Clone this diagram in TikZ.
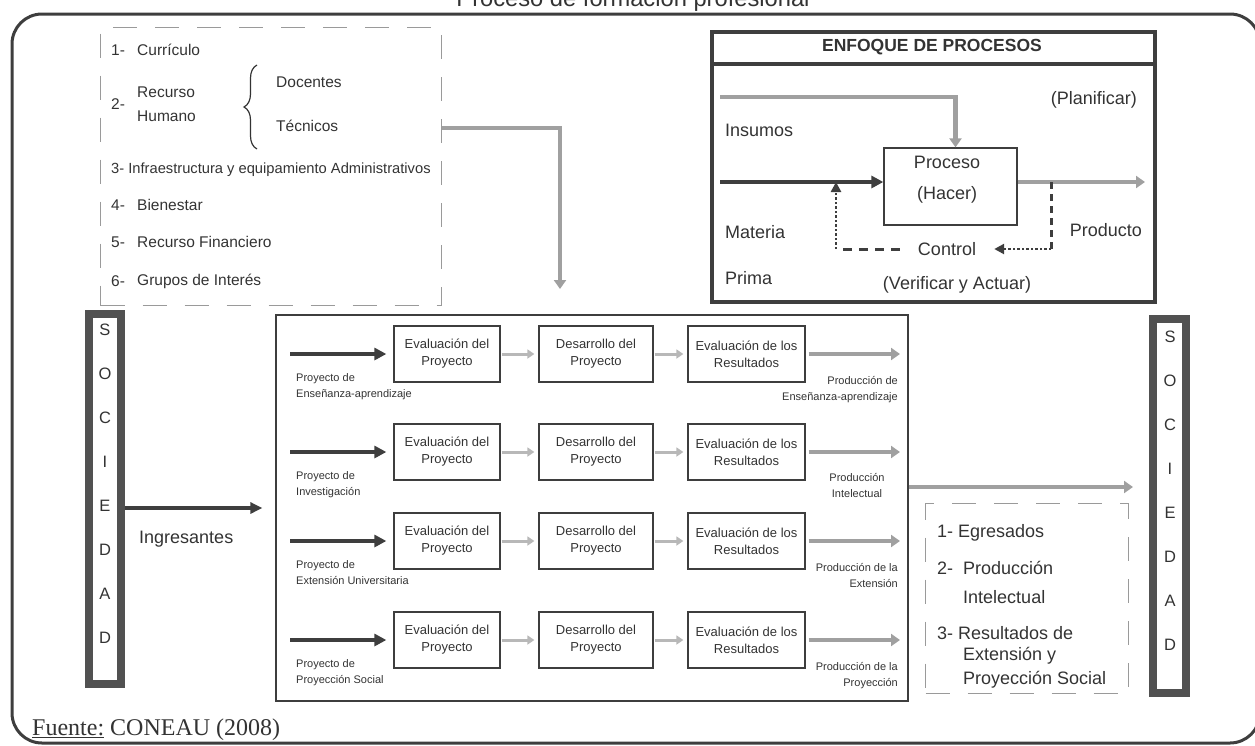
\documentclass[tikz,border=0pt]{standalone}
\usepackage{fontspec}
\setmainfont{Liberation Sans}
\newfontfamily\srffont{Liberation Serif}
\usetikzlibrary{arrows.meta,decorations.pathreplacing,calc}
\definecolor{ink}{HTML}{333333}
\definecolor{frame}{HTML}{3E3E3E}
\definecolor{hatch}{HTML}{A0A0A0}
\definecolor{dashc}{HTML}{9A9A9A}
\newcommand\fsz[2]{\fontsize{#1}{#2}\selectfont}

\begin{document}
\begin{tikzpicture}[x=1pt,y=-1pt,
  txt/.style={inner sep=0pt, text=ink},
  listtxt/.style={txt, anchor=west, font=\fsz{15.5}{18}},
  mtxt/.style={txt, font=\fsz{18}{22}},
  smalltxt/.style={txt, font=\fsz{11}{16}},
  dashbox/.style={draw=dashc, line width=1.2pt, dash pattern=on 24pt off 18pt},
  thickframe/.style={draw=frame, line width=4pt},
  socframe/.style={draw=frame!90, line width=8pt},
  stepbox/.style={draw=frame, line width=1.3pt, align=center, text=ink,
                  font=\fsz{13}{17}, inner sep=0pt, minimum height=56pt},
  darrow/.style={draw=frame, line width=4pt, -{Triangle[length=12pt,width=12pt]}},
  harrow/.style={draw=hatch, line width=4.5pt, -{Triangle[length=9pt,width=12pt]}},
  sarrow/.style={draw=hatch!75, line width=3pt, -{Triangle[length=7pt,width=9pt]}},
]
\useasboundingbox (0,0) rectangle (1255,745);

% outer frame and title
\draw[draw=frame, line width=3pt, rounded corners=30pt] (12,14) rectangle (1260,743);
\node[txt, anchor=base, font=\fsz{23.7}{24}] (title) at (633,6) {Proceso de formación profesional};

% resources list
\node[dashbox, minimum width=341pt, minimum height=278pt, anchor=north west, inner sep=0pt]
  (recursos) at (100,27) {};
\node[listtxt] (n1) at (111,50) {1-};
\node[listtxt] (t1) at (137,50) {Currículo};
\node[listtxt] (n2) at (111,104) {2-};
\node[listtxt, align=left, font=\fsz{15.5}{24}] (t2) at (137,104) {Recurso\\Humano};
\draw[draw=ink, line width=1.2pt, decorate, decoration={brace, amplitude=13pt}]
  (257,149) -- (257,65);
\node[listtxt] (doc) at (276,82) {Docentes};
\node[listtxt] (tec) at (276,126) {Técnicos};
\node[listtxt, font=\fsz{14.7}{18}] (t3) at (111,170) {3- Infraestructura y equipamiento Administrativos};
\node[listtxt] (n4) at (111,205) {4-};
\node[listtxt] (t4) at (137,205) {Bienestar};
\node[listtxt] (n5) at (111,242) {5-};
\node[listtxt] (t5) at (137,242) {Recurso Financiero};
\node[listtxt] (n6) at (111,281) {6-};
\node[listtxt] (t6) at (137,281) {Grupos de Interés};

% process approach panel
\node[thickframe, minimum width=443pt, minimum height=270pt, inner sep=0pt, anchor=north west]
  (enfoque) at (710,30) {};
\draw[draw=frame, line width=3.5pt] ($(enfoque.north west)+(2,34)$) -- ($(enfoque.north east)+(-2,34)$);
\node[txt, font=\bfseries\fsz{17.5}{20}] (enfhead) at (932,47) {ENFOQUE DE PROCESOS};
\node[draw=frame, line width=1.3pt, minimum width=133pt, minimum height=77pt, inner sep=0pt]
  (proceso) at (950.5,186.5) {};
\node[mtxt, align=center, font=\fsz{18}{31}] (procT) at (947,180) {Proceso\\(Hacer)};
\node[mtxt, anchor=east] (plan) at (1137,100) {(Planificar)};
\node[mtxt, anchor=west] (insumos) at (725,130) {Insumos};
\node[mtxt, anchor=west] (materia) at (725,232) {Materia};
\node[mtxt, anchor=west] (prima) at (725,278) {Prima};
\node[mtxt, anchor=east] (producto) at (1142,230) {Producto};
\node[mtxt, inner xsep=18pt] (control) at (947,249) {Control};
\node[mtxt] (verif) at (957,285) {(Verificar y Actuar)};

\coordinate (insIn) at (720,97);
\coordinate (matIn) at (720,182);
\coordinate (prodOut) at (1145,182);
\coordinate (tap) at (1051,182);
\coordinate (fb) at (836,249);
\draw[harrow] (insIn) -| ([xshift=5pt]proceso.north);
\draw[darrow] (matIn) -- (proceso.west |- matIn);
\draw[harrow] (proceso.east |- matIn) -- (prodOut);
\draw[draw=frame, line width=3pt, dash pattern=on 7pt off 5pt] (tap) -- (tap |- control);
\draw[draw=frame, line width=2.5pt, dash pattern=on 2.5pt off 2pt, -{Triangle[length=10pt,width=10pt]}]
  (tap |- control) -- (control.east);
\draw[draw=frame, line width=3pt, dash pattern=on 9pt off 7pt] (control.west) -- (fb);
\draw[draw=frame, line width=2.5pt, dash pattern=on 2.5pt off 2pt, -{Triangle[length=10pt,width=10pt]}]
  (fb) -- (fb |- matIn);

% society columns
\node[socframe, minimum width=32pt, minimum height=370pt, inner sep=0pt] (socL) at (105,499) {};
\node[txt, align=center, font=\fsz{16.5}{44}] (socLtxt) at (105,484) {S\\O\\C\\I\\E\\D\\A\\D};
\node[socframe, minimum width=33pt, minimum height=374pt, inner sep=0pt] (socR) at (1169.5,506) {};
\node[txt, align=center, font=\fsz{16.5}{44}] (socRtxt) at (1170,490.5) {S\\O\\C\\I\\E\\D\\A\\D};

% university process block
\node[draw=frame, line width=1.3pt, minimum width=632pt, minimum height=386pt, inner sep=0pt]
  (mid) at (592,508) {};
\coordinate (ingY) at (0,508);
\draw[draw=frame, line width=3.5pt, -{Triangle[length=12pt,width=11pt]}, shorten >=13pt]
  (socL.east |- ingY) -- (mid.west |- ingY);
\node[mtxt, anchor=west] (ingres) at (139,539) {Ingresantes};

\coordinate (recOut) at ($(recursos.north east)+(0,101)$);
\coordinate (midIn) at (560,289);
\draw[harrow] (recOut) -| (midIn);

\foreach \k/\y/\a/\b in {1/354/Proyecto de/Enseñanza-aprendizaje,
                         2/452/Proyecto de/Investigación,
                         3/541/Proyecto de/Extensión Universitaria,
                         4/640/Proyecto de/Proyección Social}{
  \node[stepbox, minimum width=106pt] (ev\k) at (447,\y) {Evaluación del\\Proyecto};
  \node[stepbox, minimum width=114pt] (de\k) at (596,\y) {Desarrollo del\\Proyecto};
  \node[stepbox, minimum width=117pt] (re\k) at (746.5,\y) {Evaluación de los\\Resultados};
  \coordinate (in\k) at (290,\y);
  \coordinate (out\k) at (900,\y);
  \draw[darrow, shorten >=7pt] (in\k) -- (ev\k.west);
  \draw[sarrow, shorten <=1pt, shorten >=4pt] (ev\k.east) -- (de\k.west);
  \draw[sarrow, shorten <=1pt, shorten >=4pt] (de\k.east) -- (re\k.west);
  \draw[harrow] ([xshift=3pt]re\k.east) -- (out\k);
  \node[smalltxt, anchor=north west, align=left] (lab\k) at (296,\y+19) {\a\\\b};
}
\node[smalltxt, anchor=north east, align=right] (prod1) at (898,376) {Producción de\\Enseñanza-aprendizaje};
\node[smalltxt, anchor=north, align=center] (prod2) at (857,473) {Producción\\Intelectual};
\node[smalltxt, anchor=north east, align=right] (prod3) at (898,563) {Producción de la\\Extensión};
\node[smalltxt, anchor=north east, align=right] (prod4) at (898,662) {Producción de la\\Proyección};

% results to society
\coordinate (outY) at (0,487);
\coordinate (socIn) at (1133,487);
\draw[harrow] (mid.east |- outY) -- (socIn);

\node[dashbox, minimum width=203pt, minimum height=190pt, anchor=north west, inner sep=0pt]
  (results) at (925,503) {};
\node[mtxt, anchor=west] (r1) at (937,533) {1- Egresados};
\node[mtxt, anchor=west] (r2n) at (937,568) {2-};
\node[mtxt, anchor=west] (r2) at (963,568) {Producción};
\node[mtxt, anchor=west] (r2b) at (963,597) {Intelectual};
\node[mtxt, anchor=west] (r3) at (937,633) {3- Resultados de};
\node[mtxt, anchor=west] (r3b) at (963,656) {Extensión y};
\node[mtxt, anchor=west] (r3c) at (963,680) {Proyección Social};

% source
\node[txt, anchor=base west, font=\srffont\fsz{24}{26}] (fuente) at (32,735) {\underline{Fuente:} CONEAU (2008)};
\end{tikzpicture}
\end{document}
